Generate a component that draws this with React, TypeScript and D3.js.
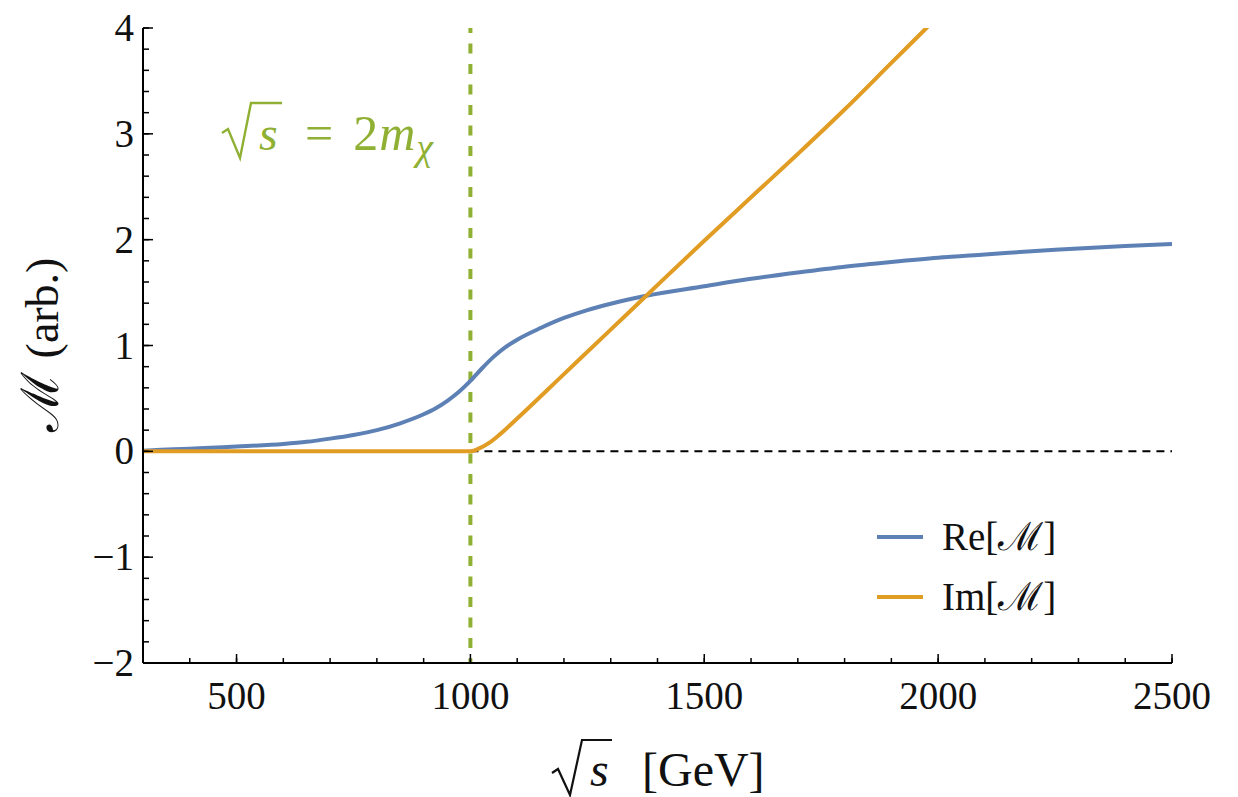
import React from "react";
import * as d3 from "d3";

const reEnergy = [300, 365, 400, 500, 600, 650, 700, 750, 800, 850, 900, 925, 950, 975, 1000, 1025, 1050, 1075, 1100, 1150, 1200, 1250, 1300, 1376, 1500, 1600, 1700, 1800, 1900, 2000, 2100, 2250, 2400, 2500];
const reValue = [0.005, 0.02, 0.025, 0.045, 0.07, 0.09, 0.12, 0.155, 0.2, 0.265, 0.35, 0.405, 0.475, 0.56, 0.665, 0.785, 0.895, 0.985, 1.055, 1.165, 1.26, 1.335, 1.395, 1.47, 1.56, 1.63, 1.69, 1.745, 1.79, 1.83, 1.86, 1.905, 1.94, 1.96];

const imEnergy = [300, 500, 700, 900, 1000, 1020, 1040, 1063, 1100, 1200, 1300, 1376, 1500, 1600, 1700, 1800, 1900, 1975, 2000];
const imValue = [0, 0, 0, 0, 0, 0.03, 0.08, 0.16, 0.31, 0.73, 1.15, 1.47, 1.99, 2.4, 2.81, 3.23, 3.67, 4.0, 4.11];

const xMajorTicks = [500, 1000, 1500, 2000, 2500];
const xMinorTicks = d3.range(300, 2501, 100);
const yMajorTicks = [-2, -1, 0, 1, 2, 3, 4];
const yMinorTicks = d3.range(-2, 4.001, 0.2);
const thresholdEnergy = 1000;

const seriesNames = ["Re", "Im"];
const BLUE = "#5e81b5";
const ORANGE = "#e19c24";
const GREEN = "#8fb032";
const FONT = "'Liberation Serif', 'DejaVu Serif', serif";
const CAL = "'DejaVu Serif', serif";

export default function App() {
  const x = d3.scaleLinear().domain([300, 2500]).range([143, 1172]);
  const y = d3.scaleLinear().domain([-2, 4]).range([663, 28]);

  const line = d3
    .line<[number, number]>()
    .x((d) => x(d[0]))
    .y((d) => y(d[1]))
    .curve(d3.curveMonotoneX);

  const reData: [number, number][] = reEnergy.map((e, i) => [e, reValue[i]]);
  const imData: [number, number][] = imEnergy.map((e, i) => [e, imValue[i]]);

  const fmt = (v: number) => (v < 0 ? "\u2212" + Math.abs(v) : String(v));

  return (
    <svg
      width={1238}
      height={797}
      style={{ position: "absolute", left: 0, top: 0, background: "#fff" }}
      fontFamily={FONT}
    >
      <defs>
        <clipPath id="plotClip">
          <rect x={x(300)} y={y(4)} width={x(2500) - x(300)} height={y(-2) - y(4)} />
        </clipPath>
      </defs>

      {/* zero dashed reference */}
      <line
        x1={x(thresholdEnergy)}
        x2={x(2500)}
        y1={y(0)}
        y2={y(0)}
        stroke="#000"
        strokeWidth={2}
        strokeDasharray="8,6"
      />

      {/* threshold vertical */}
      <line
        x1={x(thresholdEnergy)}
        x2={x(thresholdEnergy)}
        y1={y(4)}
        y2={y(-2)}
        stroke={GREEN}
        strokeWidth={4}
        strokeDasharray="10,10.5"
        strokeDashoffset={5}
      />

      <g clipPath="url(#plotClip)">
        <path d={line(reData) || ""} fill="none" stroke={BLUE} strokeWidth={4} />
        <path d={line(imData) || ""} fill="none" stroke={ORANGE} strokeWidth={4} />
      </g>

      {/* axes */}
      <line x1={x(300)} x2={x(2500)} y1={y(-2)} y2={y(-2)} stroke="#000" strokeWidth={2} />
      <line x1={x(300)} x2={x(300)} y1={y(-2)} y2={y(4)} stroke="#000" strokeWidth={2} />

      {xMinorTicks.map((t) => (
        <line key={"xm" + t} x1={x(t)} x2={x(t)} y1={y(-2)} y2={y(-2) - 5} stroke="#000" strokeWidth={1.5} />
      ))}
      {xMajorTicks.map((t) => (
        <g key={"xM" + t}>
          <line x1={x(t)} x2={x(t)} y1={y(-2)} y2={y(-2) - 9} stroke="#000" strokeWidth={1.5} />
          <text x={x(t)} y={709} textAnchor="middle" fontSize={39} fill="#111">
            {t}
          </text>
        </g>
      ))}
      {yMinorTicks.map((t, i) => (
        <line key={"ym" + i} x1={x(300)} x2={x(300) + 6} y1={y(t)} y2={y(t)} stroke="#000" strokeWidth={1.5} />
      ))}
      {yMajorTicks.map((t) => (
        <g key={"yM" + t}>
          <line x1={x(300)} x2={x(300) + 10} y1={y(t)} y2={y(t)} stroke="#000" strokeWidth={1.5} />
          <text x={134} y={y(t) + 13} textAnchor="end" fontSize={39} fill="#111">
            {fmt(t)}
          </text>
        </g>
      ))}

      {/* y label */}
      <text
        transform="translate(58,345) rotate(-90)"
        textAnchor="middle"
        fontSize={46}
        fill="#111"
      >
        <tspan fontFamily={CAL} fontSize={52}>ℳ</tspan>
        <tspan dx={14}>(arb.)</tspan>
      </text>

      {/* x label */}
      <path
        d="M552,773 L558,769 L570,795 L582,740 L612,740"
        fill="none"
        stroke="#111"
        strokeWidth={2.2}
        strokeLinejoin="miter"
      />
      <text x={590} y={786} fontSize={48} fill="#111">
        <tspan fontStyle="italic">s</tspan>
      </text>
      <text x={642} y={786} fontSize={48} fill="#111">
        [GeV]
      </text>

      {/* annotation */}
      <path
        d="M222,133 L228,129 L240,158 L251,103 L282,103"
        fill="none"
        stroke={GREEN}
        strokeWidth={2.4}
      />
      <text x={259} y={150} fontSize={48} fill={GREEN}>
        <tspan fontStyle="italic">s</tspan>
      </text>
      <text x={305} y={150} fontSize={50} fill={GREEN}>
        <tspan>=</tspan>
        <tspan dx={20}>2</tspan>
        <tspan fontStyle="italic" dx={1}>m</tspan>
        <tspan fontStyle="italic" fontSize={38} dy={10} dx={1}>χ</tspan>
      </text>

      {/* legend */}
      {seriesNames.map((name, i) => (
        <g key={name}>
          <line
            x1={877}
            x2={923}
            y1={537 + i * 60}
            y2={537 + i * 60}
            stroke={i === 0 ? BLUE : ORANGE}
            strokeWidth={4}
          />
          <text x={942} y={550 + i * 60} fontSize={39} fill="#111">
            <tspan>{name}[</tspan>
            <tspan fontFamily={CAL}>ℳ</tspan>
            <tspan>]</tspan>
          </text>
        </g>
      ))}
    </svg>
  );
}
